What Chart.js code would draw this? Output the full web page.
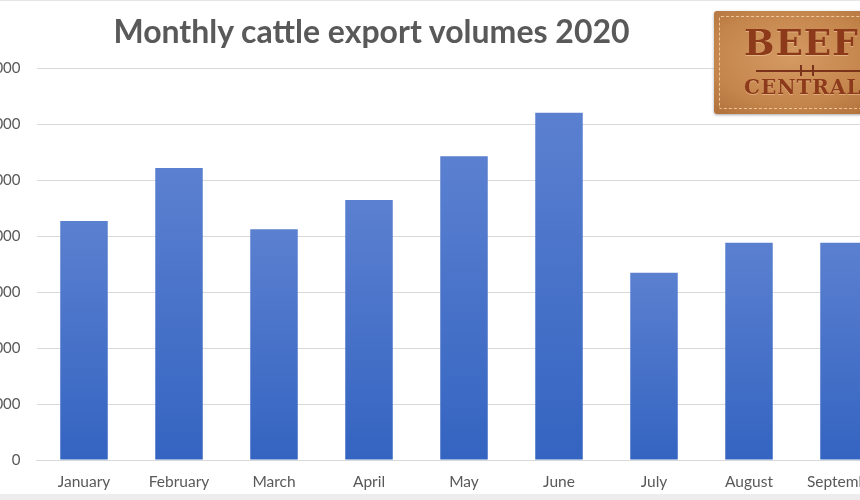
<!DOCTYPE html>
<html>
<head>
<meta charset="utf-8">
<script src="https://cdn.jsdelivr.net/npm/chart.js@4.4.1/dist/chart.umd.min.js"></script>
<style>
  html, body { margin: 0; padding: 0; background: #fff; }
  #frame { position: relative; width: 860px; height: 500px; overflow: hidden; background: #fff; }
  #topline { position: absolute; left: 0; top: 0; width: 860px; height: 1px; background: #e6e6e6; }
  #bottomband { position: absolute; left: 0; top: 494px; width: 860px; height: 6px; background: #ededed; }
  #wrap { position: absolute; left: -80px; top: 0; width: 975px; height: 500px; }
  #title { position: absolute; left: 0; width: 743px; top: 11px; text-align: center;
           font: bold 32px Lato, sans-serif; color: #595959; line-height: 40px; }
  #badge { position: absolute; left: 714px; top: 11px; width: 170px; height: 103px;
           background: radial-gradient(ellipse at 45% 45%, #d49a62 0%, #c4854c 60%, #a96a36 100%);
           border-radius: 3px; box-shadow: 0 1px 3px rgba(0,0,0,0.35); }
  #stitch { position: absolute; left: 5px; top: 5px; right: 5px; bottom: 5px;
            border: 1.5px dashed #edc79b; border-radius: 2px; }
  .brand { position: absolute; font-family: "DejaVu Serif", serif; font-weight: bold;
           color: #8c3a1a; text-shadow: 0 1px 0 rgba(255,220,180,0.45); }
  #beef { left: 30px; top: 10px; font-size: 36px; letter-spacing: 1px; }
  #wire { position: absolute; left: 42px; top: 59px; width: 110px; height: 2px; background: #7a321a; }
  #knot { position: absolute; left: 86px; top: 54px; width: 10px; height: 11px;
          border-left: 2px solid #7a321a; border-right: 2px solid #7a321a; }
  #central { left: 30px; top: 64px; font-size: 20px; letter-spacing: 1px; }
</style>
</head>
<body>
<div id="frame">
  <div id="wrap"><canvas id="myChart"></canvas></div>
  <div id="topline"></div>
  <div id="bottomband"></div>
  <div id="title">Monthly cattle export volumes 2020</div>
  <div id="badge">
    <div id="stitch"></div>
    <div class="brand" id="beef">BEEF</div>
    <div id="wire"></div><div id="knot"></div>
    <div class="brand" id="central">CENTRAL</div>
  </div>
</div>
<script>
// months shown in the chart (it is cropped after September)
var months = ['January', 'February', 'March', 'April', 'May', 'June', 'July', 'August', 'September'];
// head of cattle exported
var volumes = [85400, 104300, 82400, 92900, 108500, 124000, 66900, 77600, 77600];
// y axis ticks
var yTicks = [0, 20000, 40000, 60000, 80000, 100000, 120000, 140000];

// each bar gets its own light-to-dark blue gradient
function barGradient(ctx) {
  var chart = ctx.chart;
  var y = chart.scales.y;
  if (!y || !chart.chartArea || ctx.dataIndex === undefined) return '#4472c4';
  var top = y.getPixelForValue(volumes[ctx.dataIndex]);
  var bottom = y.getPixelForValue(0);
  if (!isFinite(top) || !isFinite(bottom)) return '#4472c4';
  var g = chart.ctx.createLinearGradient(0, top, 0, bottom);
  g.addColorStop(0, '#5b80d0');
  g.addColorStop(1, '#3464c1');
  return g;
}

var ctx = document.getElementById('myChart').getContext('2d');
var myChart = new Chart(ctx, {
  type: 'bar',
  data: {
    labels: months,
    datasets: [{
      label: 'Cattle exports',
      data: volumes,
      backgroundColor: barGradient,
      borderWidth: 0,
      barPercentage: 0.5,
      categoryPercentage: 1.0
    }]
  },
  options: {
    responsive: true,
    maintainAspectRatio: false,
    animation: false,
    layout: { padding: { top: 68, right: 3.5, bottom: 0, left: 0 } },
    plugins: {
      legend: { display: false },
      tooltip: { enabled: false }
    },
    scales: {
      x: {
        grid: { display: false },
        border: { color: '#d9d9d9' },
        ticks: { color: '#595959', font: { family: 'Lato', size: 15.5 }, padding: 5, maxRotation: 0 },
        afterFit: function (s) { s.height = 40; }
      },
      y: {
        min: 0,
        max: 140000,
        afterBuildTicks: function (s) { s.ticks = yTicks.map(function (v) { return { value: v }; }); },
        grid: { color: '#d9d9d9', drawTicks: false },
        border: { display: false },
        ticks: {
          color: '#595959',
          font: { family: 'Lato', size: 15 },
          padding: 16,
          callback: function (v) { return v.toLocaleString('en-US'); }
        },
        afterFit: function (s) { s.width = 116.5; }
      }
    }
  }
});
myChart.update();
</script>
</body>
</html>
